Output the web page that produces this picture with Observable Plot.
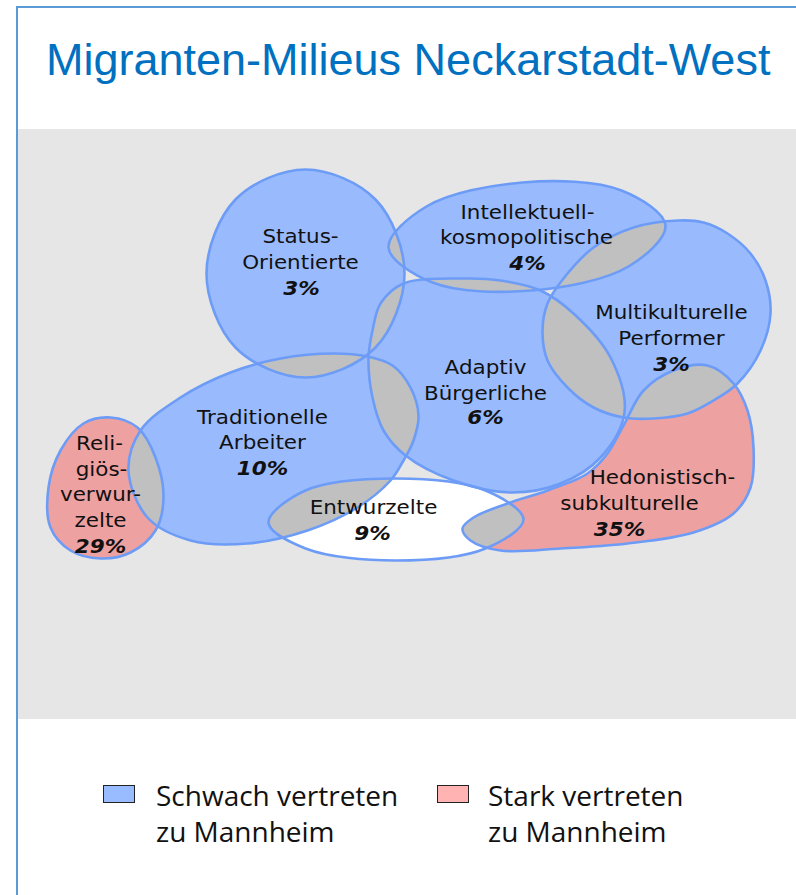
<!DOCTYPE html>
<html><head><meta charset="utf-8">
<script src="https://cdn.jsdelivr.net/npm/d3@7"></script>
<script src="https://cdn.jsdelivr.net/npm/@observablehq/plot@0.6"></script>
<style>
body{margin:0;background:#fff;width:796px;height:895px;overflow:hidden;position:relative;font-family:"Liberation Sans",Arial,sans-serif}
#frame{position:absolute;left:16px;top:6px;width:782px;height:892px;border-left:2px solid #5a9bd8;border-top:2px solid #5a9bd8;box-sizing:border-box}
#title{position:absolute;left:46px;top:37px;font-size:45px;line-height:45px;color:#0070c0;white-space:nowrap}
#chart{position:absolute;left:18px;top:129px}
.sw{position:absolute;width:30px;height:16px;border:1.5px solid #222}
.lt{position:absolute;font-family:"Open Sans",sans-serif;font-size:28px;line-height:36px;color:#111;white-space:nowrap}
</style></head>
<body>
<div id="frame"></div>
<div id="title">Migranten-Milieus Neckarstadt-West</div>
<div id="chart"></div>
<div id="legend"></div>
<script>
// ---- data ----
const shapeNames = ["Status-Orientierte","Intellektuell-kosmopolitische","Multikulturelle Performer","Adaptiv Bürgerliche","Traditionelle Arbeiter","Religiös-verwurzelte","Entwurzelte","Hedonistisch-subkulturelle"];
const shapeKinds = ["schwach","schwach","schwach","schwach","schwach","stark","neutral","stark"];
const shares = [3,4,3,6,10,29,9,35];

// outlines (control points of smooth closed curves)
const statusOutline = [[305,169],[375,199],[404,273],[375,347],[305,377],[235,347],[206,273],[235,199]];
const intellOutline = [[522,182],[621,190],[665,225],[628,266],[531,290],[432,282],[388,247],[426,206]];
const multiOutline = [[678,220],[703,222],[727,233],[750,253],[765,280],[770,313],[760,350],[737,383],[713,400],[687,413],[653,418],[623,417],[593,407],[567,387],[547,360],[542,330],[547,303],[563,278],[593,247],[633,227]];
const adaptivOutline = [[466,278],[500,280],[540,290],[573,313],[610,357],[624,412],[600,457],[560,483],[510,492],[453,480],[405,455],[383,430],[372,397],[368,358],[372,330],[380,303],[403,283]];
const tradOutline = [[280,358],[333,353],[367,356],[392,365],[410,387],[418,415],[413,440],[403,460],[390,480],[357,507],[307,530],[247,543],[190,540],[147,517],[128,470],[140,430],[180,397],[230,372]];
const religOutline = [[110,417],[137,427],[155,457],[163,497],[155,530],[130,552],[100,558],[70,550],[50,527],[48,487],[60,450],[83,423]];
const entwOutline = [[395,478],[485,490],[523,519],[485,548],[395,560],[305,548],[268,522],[305,490]];
const hedoOutline = [[707,365],[733,383],[747,410],[753,447],[750,487],[733,513],[693,532],[627,543],[560,548],[500,550],[470,540],[462,528],[473,517],[507,503],[547,490],[587,473],[607,453],[623,425],[643,390],[673,370]];
const outlines = [statusOutline,intellOutline,multiOutline,adaptivOutline,tradOutline,religOutline,entwOutline,hedoOutline];

// label lines and their anchors (baseline positions)
const labelLines = ["Status-","Orientierte","Intellektuell-","kosmopolitische","Multikulturelle","Performer","Adaptiv","Bürgerliche","Traditionelle","Arbeiter","Reli-","giös-","verwur-","zelte","Entwurzelte","Hedonistisch-","subkulturelle"];
const labelAnchors = [[300,242],[300,268],[527,218],[526,243],[671,318],[671,344],[485,373],[485,399],[262,423],[262,448],[99,449],[101,475],[100,500],[100,526],[373,513],[662,483],[629,509]];
const shareAnchors = [[301,294],[527,269],[671,370],[485,423],[262,474],[100,552],[372,539],[619,535]];

const legendLabels = ["Schwach vertreten\nzu Mannheim","Stark vertreten\nzu Mannheim"];

// ---- styling ----
const fillByKind = {schwach:"#99bbfd", stark:"#eea1a1", neutral:"#ffffff"};
const strokeColor = "#6d9cf7";
const overlapColor = "#c0c0c0";
const curve = "catmull-rom-closed";

const labels = labelLines.map((t,i)=>({text:t, x:labelAnchors[i][0], y:labelAnchors[i][1]}));
const pct = shares.map((v,i)=>({text:v+"%", x:shareAnchors[i][0], y:shareAnchors[i][1]}));

const others = i => outlines.flatMap((pts,j)=> j===i ? [] : pts.map(p=>({x:p[0], y:p[1], shape:j})));

const svg = Plot.plot({
  width: 778, height: 590, margin: 0,
  x: {domain:[18,796], range:[0,778], axis:null},
  y: {domain:[129,719], range:[0,590], axis:null},
  style: {background:"#e6e6e6", overflow:"visible"},
  marks: [
    ...outlines.map((pts,i)=>Plot.line(pts,{x:d=>d[0], y:d=>d[1], curve, fill:fillByKind[shapeKinds[i]], stroke:"none"})),
    ...outlines.map((pts,i)=>Plot.line(others(i),{x:"x", y:"y", z:"shape", curve, fill:overlapColor, stroke:"none"})),
    ...outlines.map(pts=>Plot.line(pts,{x:d=>d[0], y:d=>d[1], curve, fill:"none", stroke:strokeColor, strokeWidth:2.6})),
    Plot.text(labels,{x:"x", y:"y", text:"text", fontFamily:"DejaVu Sans", fontSize:19, fill:"#111", lineAnchor:"bottom"}),
    Plot.text(pct,{x:"x", y:"y", text:"text", fontFamily:"DejaVu Sans", fontSize:19, fontWeight:"bold", fontStyle:"italic", fill:"#111", lineAnchor:"bottom"})
  ]
});
document.getElementById("chart").appendChild(svg);

// overlaps: clip the grey copies of the other shapes to each shape
const groups = Array.from(svg.querySelectorAll(':scope > g[aria-label="line"]'));
const ns = "http://www.w3.org/2000/svg";
const defs = document.createElementNS(ns,"defs");
svg.insertBefore(defs, svg.firstChild);
outlines.forEach((_,i)=>{
  const d = groups[i].querySelector("path").getAttribute("d");
  const cp = document.createElementNS(ns,"clipPath");
  cp.setAttribute("id","clip-shape-"+i);
  const p = document.createElementNS(ns,"path");
  p.setAttribute("d", d);
  cp.appendChild(p);
  defs.appendChild(cp);
  groups[outlines.length+i].setAttribute("clip-path","url(#clip-shape-"+i+")");
});
// widen text slightly as in the source
svg.querySelectorAll('g[aria-label="text"] text').forEach(t=>{
  const w = t.getComputedTextLength();
  t.setAttribute("textLength", (w*1.13).toFixed(1));
  t.setAttribute("lengthAdjust","spacingAndGlyphs");
});

// legend
const leg = document.getElementById("legend");
const legPos = [[103,156,"schwach","#99bbff"],[437,488,"stark","#ffb3b3"]];
legendLabels.forEach((lab,i)=>{
  const sw = document.createElement("div");
  sw.className="sw"; sw.style.left=legPos[i][0]+"px"; sw.style.top="785px"; sw.style.background=legPos[i][3];
  leg.appendChild(sw);
  const tx = document.createElement("div");
  tx.className="lt"; tx.style.left=legPos[i][1]+"px"; tx.style.top="777px";
  tx.innerHTML = lab.split("\n").join("<br>");
  leg.appendChild(tx);
});
</script>
</body></html>
